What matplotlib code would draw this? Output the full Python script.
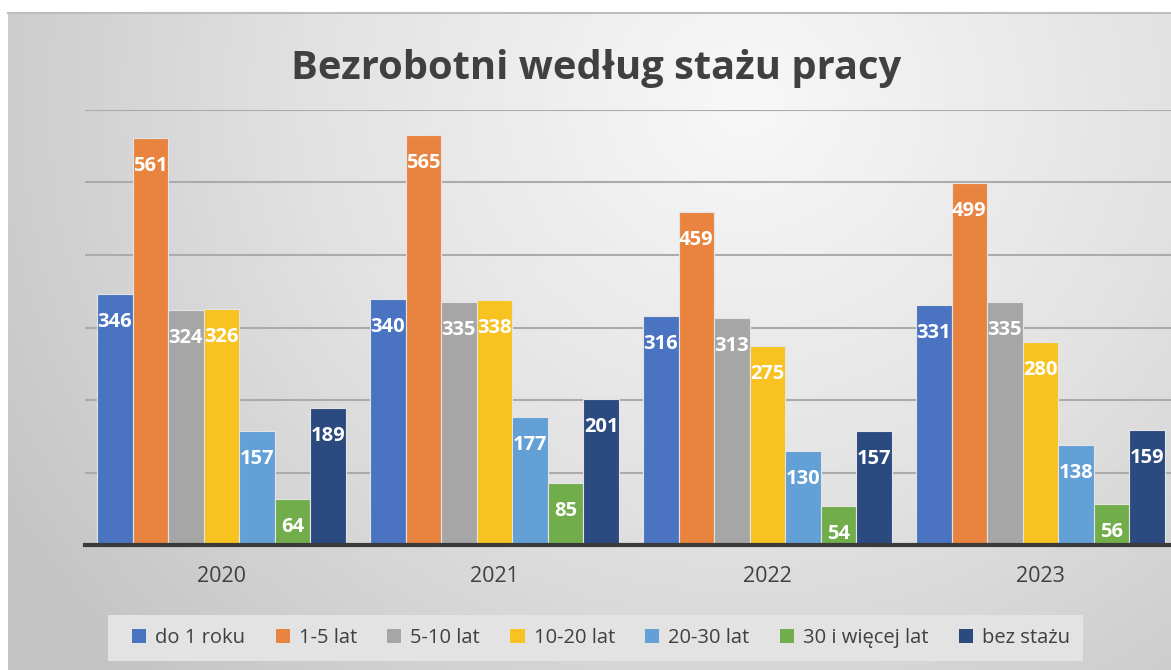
import numpy as np
import matplotlib.pyplot as plt
from matplotlib.colors import LinearSegmentedColormap
from matplotlib.patches import Rectangle

# Data
years = ['2020', '2021', '2022', '2023']
series = ['do 1 roku', '1-5 lat', '5-10 lat', '10-20 lat', '20-30 lat', '30 i więcej lat', 'bez stażu']
do_1_roku = [346, 340, 316, 331]
lat_1_5 = [561, 565, 459, 499]
lat_5_10 = [324, 335, 313, 335]
lat_10_20 = [326, 338, 275, 280]
lat_20_30 = [157, 177, 130, 138]
lat_30_plus = [64, 85, 54, 56]
bez_stazu = [189, 201, 157, 159]
values = [do_1_roku, lat_1_5, lat_5_10, lat_10_20, lat_20_30, lat_30_plus, bez_stazu]
colors = ['#4a74c2', '#e8843f', '#a6a6a6', '#f8c220', '#62a0d6', '#72ad4b', '#2b4a80']

plt.rcParams['font.family'] = ['Open Sans', 'DejaVu Sans']

fig = plt.figure(figsize=(11.71, 6.70), dpi=100)
fig.patch.set_facecolor('white')

# background gradient of the chart area
bg = fig.add_axes([8 / 1171, 0, 1 - 8 / 1171, 1 - 13 / 670])
h, w = 300, 600
yy, xx = np.mgrid[0:h, 0:w]
d = np.sqrt(((xx - 380) / w) ** 2 + ((yy - 40) / h * 0.6) ** 2)
d = np.clip(d / 0.75, 0, 1)
cmap = LinearSegmentedColormap.from_list('bg', ['#f8f8f8', '#e2e2e2', '#c4c4c4'])
bg.imshow(d, cmap=cmap, aspect='auto', vmin=0, vmax=1)
bg.set_xticks([])
bg.set_yticks([])
for s in bg.spines.values():
    s.set_visible(False)
bg.spines['top'].set_visible(True)
bg.spines['top'].set_color('#bdbdbd')
bg.spines['top'].set_linewidth(1.5)

ax = fig.add_axes([85 / 1171, 1 - 545 / 670, 1092 / 1171, 435 / 670])
ax.patch.set_alpha(0)

n = len(series)
bw = 1 / (n + 0.67)
x = np.arange(len(years))
for i, (name, vals, c) in enumerate(zip(series, values, colors)):
    pos = x + (i - (n - 1) / 2) * bw
    bars = ax.bar(pos, vals, width=bw, color=c, edgecolor='#e4e4e4', linewidth=0.8,
                  label=name, zorder=3)
    for b, v in zip(bars, vals):
        ax.annotate(str(v), (b.get_x() + b.get_width() / 2, v), xytext=(0, -13),
                    textcoords='offset points', ha='center', va='top',
                    color='white', fontsize=14.5, fontweight='bold', zorder=4)

ax.set_xlim(-0.5, len(years) - 0.5)
ax.set_ylim(0, 600)
ax.set_yticks(range(100, 700, 100))
ax.yaxis.grid(True, color='#ababab', linewidth=1.5, zorder=0)
ax.tick_params(axis='y', left=False, labelleft=False)
ax.set_xticks(x)
ax.set_xticklabels(years, fontsize=15.5, color='#404040')
ax.tick_params(axis='x', length=0, pad=15)
for s in ['top', 'right', 'left']:
    ax.spines[s].set_visible(False)
ax.spines['bottom'].set_color('#3a3a3a')
ax.spines['bottom'].set_linewidth(3)
ax.spines['bottom'].set_zorder(5)

fig.text(0.509, 1 - 69 / 670, 'Bezrobotni według stażu pracy', ha='center', va='center',
         fontsize=28.7, fontweight='bold', color='#404040')

# legend box
fig.patches.append(Rectangle((108 / 1171, 1 - 661 / 670), 975 / 1171, 46 / 670,
                             transform=fig.transFigure, facecolor='#e3e3e3',
                             edgecolor='none', zorder=1))
leg = fig.legend(loc='center', bbox_to_anchor=(601 / 1171, 1 - 638 / 670), ncol=7,
                 frameon=False, fontsize=14.5, handlelength=0.7, handleheight=0.7,
                 handletextpad=0.45, columnspacing=1.5, borderpad=0, borderaxespad=0)
for t in leg.get_texts():
    t.set_color('#404040')
for hnd in leg.legend_handles:
    hnd.set_edgecolor('none')

fig.savefig('out.png', dpi=100)
